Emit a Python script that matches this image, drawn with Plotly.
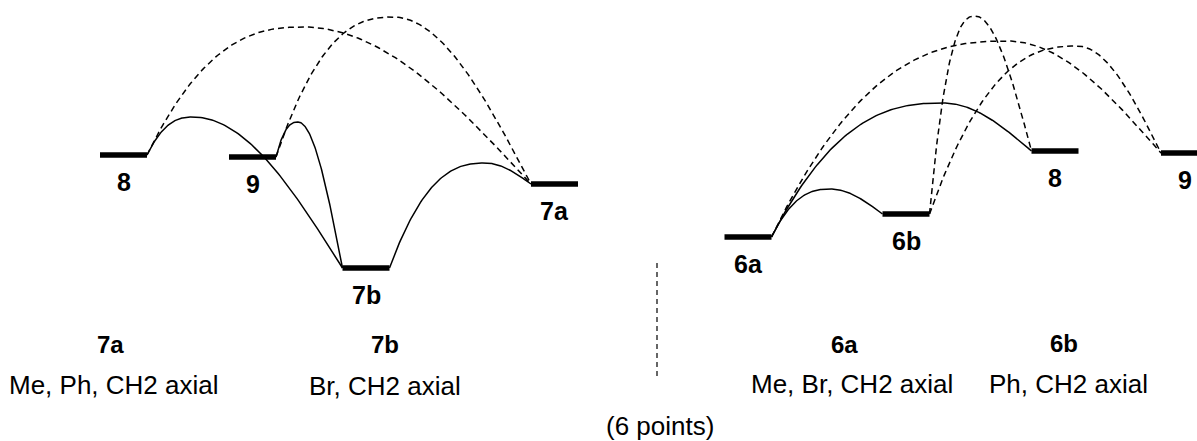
import numpy as np
import plotly.graph_objects as go

# ---------------- data ----------------
# Left diagram (reaction coordinate position, relative energy)
left_states = ["8", "9", "7b", "7a"]
left_coord = [1.235, 2.525, 3.66, 5.545]
left_energy = [11.3, 11.1, 0.0, 8.4]

# Right diagram
right_states = ["6a", "6b", "8", "9"]
right_coord = [7.48, 9.06, 10.55, 11.845]
right_energy = [3.1, 5.4, 11.7, 11.5]

# Transition states (from -> to, TS position, TS energy, line kind)
left_ts_from = ["8", "9", "7b", "8", "9"]
left_ts_to = ["7b", "7b", "7a", "7a", "7a"]
left_ts_coord = [1.93, 2.98, 4.85, 3.03, 3.93]
left_ts_energy = [15.1, 14.6, 10.5, 24.1, 25.1]
left_ts_kind = ["solid", "solid", "solid", "dash", "dash"]

right_ts_from = ["6a", "6a", "6a", "6b", "6b"]
right_ts_to = ["6b", "8", "9", "8", "9"]
right_ts_coord = [8.30, 9.43, 10.07, 9.75, 10.77]
right_ts_energy = [7.9, 16.5, 22.7, 25.2, 22.2]
right_ts_kind = ["solid", "solid", "dash", "dash", "dash"]

summary_names = ["7a", "7b", "6a", "6b"]
summary_desc = ["Me, Ph, CH2 axial", "Br, CH2 axial", "Me, Br, CH2 axial", "Ph, CH2 axial"]
footer_text = "(6 points)"

# ---------------- style / layout ----------------
W, H = 1197, 441
HALF = 0.235           # half width of a level bar (x units)
FONT = "Liberation Sans, Arial, sans-serif"
X_RANGE = [0, 11.97]
Y_RANGE = [-17.3, 26.8]

fig = go.Figure()


def arc(x0, y0, xp, yp, x1, y1, n=80):
    t = np.linspace(0, 1, n)
    xa = x0 + (xp - x0) * t
    ya = y0 + (yp - y0) * (1 - (1 - t) ** 2.5)
    xd = xp + (x1 - xp) * t
    yd = yp + (y1 - yp) * (1 - np.cos(np.pi * t / 2))
    return np.concatenate([xa, xd[1:]]), np.concatenate([ya, yd[1:]])


def draw_panel(states, coords, energies, ts_from, ts_to, ts_c, ts_e, ts_kind):
    pos = {s: (c, e) for s, c, e in zip(states, coords, energies)}
    for f, t_, c, e, k in zip(ts_from, ts_to, ts_c, ts_e, ts_kind):
        xf, ef = pos[f]
        xt, et = pos[t_]
        xs, ys = arc(xf + HALF, ef, c, e, xt - HALF, et)
        fig.add_trace(go.Scatter(
            x=xs, y=ys, mode="lines", hoverinfo="skip", showlegend=False,
            line=dict(color="black", width=1.5,
                      dash="solid" if k == "solid" else "6px,4px")))
    for s, c, e in zip(states, coords, energies):
        fig.add_trace(go.Scatter(
            x=[c - HALF, c + HALF], y=[e, e], mode="lines",
            hoverinfo="skip", showlegend=False,
            line=dict(color="black", width=5.5)))
        fig.add_annotation(x=c, y=e, xref="x", yref="y", text=f"<b>{s}</b>",
                           showarrow=False, yshift=-27, yanchor="middle",
                           font=dict(family=FONT, size=25, color="black"))


draw_panel(left_states, left_coord, left_energy, left_ts_from, left_ts_to,
           left_ts_coord, left_ts_energy, left_ts_kind)
draw_panel(right_states, right_coord, right_energy, right_ts_from, right_ts_to,
           right_ts_coord, right_ts_energy, right_ts_kind)

# summary texts below the diagrams
name_px = [(110, 344), (385, 344), (844, 344), (1064, 343)]
desc_px = [(114, 385), (385, 386), (852, 384), (1068, 384)]
for nm, (px, py) in zip(summary_names, name_px):
    fig.add_annotation(x=px / W, y=1 - py / H, xref="paper", yref="paper",
                       text=f"<b>{nm}</b>", showarrow=False,
                       xanchor="center", yanchor="middle",
                       font=dict(family=FONT, size=24, color="black"))
for d, (px, py) in zip(summary_desc, desc_px):
    fig.add_annotation(x=px / W, y=1 - py / H, xref="paper", yref="paper",
                       text=d, showarrow=False,
                       xanchor="center", yanchor="middle",
                       font=dict(family=FONT, size=26, color="black"))
fig.add_annotation(x=660 / W, y=1 - 426 / H, xref="paper", yref="paper",
                   text=footer_text, showarrow=False,
                   xanchor="center", yanchor="middle",
                   font=dict(family=FONT, size=26, color="black"))

# vertical dashed divider
fig.add_shape(type="line", xref="paper", yref="paper",
              x0=657 / W, x1=657 / W, y0=1 - 263 / H, y1=1 - 377 / H,
              line=dict(color="black", width=1.2, dash="5px,4px"))

fig.update_layout(
    width=W, height=H,
    margin=dict(l=0, r=0, t=0, b=0),
    paper_bgcolor="white", plot_bgcolor="white",
    xaxis=dict(range=X_RANGE, visible=False, fixedrange=True),
    yaxis=dict(range=Y_RANGE, visible=False, fixedrange=True),
    showlegend=False,
)

fig.write_html(
    "out.html",
    config={"displayModeBar": False, "staticPlot": True},
    post_script="document.body.style.margin='0';document.body.style.overflow='hidden';",
)
